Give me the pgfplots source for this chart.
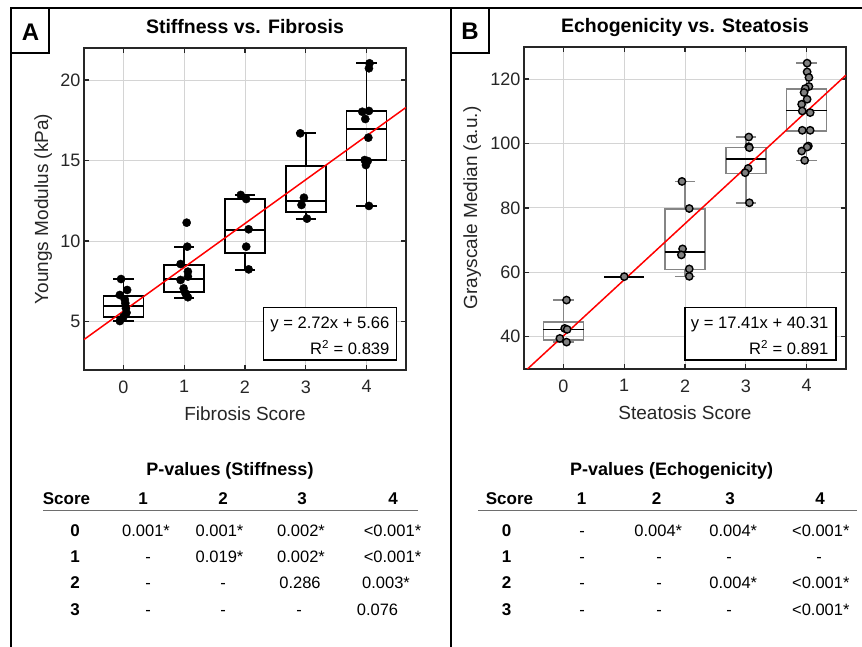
\documentclass[border=0pt]{standalone}
\usepackage{pgfplots}
\pgfplotsset{compat=1.18}
\usepackage{fontspec}
\setmainfont{Liberation Sans}
\definecolor{axgray}{HTML}{262626}
\definecolor{gridc}{HTML}{D4D4D4}
\definecolor{boxgray}{HTML}{858585}
\definecolor{ptgray}{HTML}{808080}
\definecolor{rulegray}{HTML}{6E6E6E}
\pgfplotsset{
  panel/.style={
    scale only axis, width=322pt, height=322pt,
    xmin=-0.65, xmax=4.65, xtick={0,1,2,3,4},
    tick align=inside, tick pos=both, major tick length=5pt,
    xmajorgrids, ymajorgrids,
    major grid style={draw=gridc, line width=1pt},
    axis line style={draw=axgray, line width=1.7pt},
    every tick/.style={draw=axgray, line width=1.4pt},
    tick label style={font=\fontsize{18}{20}\selectfont, text=axgray},
    /pgf/number format/assume math mode=true,
    xticklabel style={yshift=-7pt},
    label style={font=\fontsize{19}{22}\selectfont, text=axgray},
    xlabel style={at={(axis description cs:0.5,-0.135)}, anchor=center},
    title style={font=\bfseries\fontsize{19.5}{22}\selectfont, at={(axis description cs:0.5,1)}, anchor=base, yshift=8pt},
  },
  bxA/.style={draw=black, line width=1.8pt, unbounded coords=jump, no markers},
  bxB/.style={draw=boxgray, line width=1.7pt, unbounded coords=jump, no markers},
  mdB/.style={draw=black, line width=1.8pt, no markers},
}
\newcommand{\vt}[3]{\node[anchor=base, font=\fontsize{16.5}{18}\selectfont] at (#1pt,#2pt) {#3};}
\newcommand{\bt}[3]{\node[anchor=base, font=\bfseries\fontsize{17}{19}\selectfont] at (#1pt,#2pt) {#3};}
\begin{document}
\begin{tikzpicture}
\path[use as bounding box] (0pt,0pt) rectangle (862pt,647pt);

% ---------------- Panel A ----------------
\begin{axis}[panel, at={(84pt,277pt)}, anchor=south west,
  ymin=2, ymax=22, ytick={5,10,15,20},
  title={Stiffness vs. Fibrosis},
  xlabel={Fibrosis Score},
  ylabel={Youngs Modulus (kPa)},
  ylabel style={at={(axis description cs:-0.127,0.5)}, anchor=center, rotate=0},
]
% box: lower whisker, Q1, median, Q3, upper whisker
\addplot[bxA] coordinates {(-0.33,5.29) (0.33,5.29) (0.33,6.61) (-0.33,6.61) (-0.33,5.29) (0.33,5.29) (nan,nan) (-0.33,5.98) (0.33,5.98) (nan,nan) (0,6.61) (0,7.65) (nan,nan) (-0.165,7.65) (0.165,7.65) (nan,nan) (0,5.29) (0,5.02) (nan,nan) (-0.165,5.02) (0.165,5.02)};
\addplot[bxA] coordinates {(0.67,6.83) (1.33,6.83) (1.33,8.52) (0.67,8.52) (0.67,6.83) (1.33,6.83) (nan,nan) (0.67,7.67) (1.33,7.67) (nan,nan) (1,8.52) (1,9.66) (nan,nan) (0.835,9.66) (1.165,9.66) (nan,nan) (1,6.83) (1,6.47) (nan,nan) (0.835,6.47) (1.165,6.47)};
\addplot[bxA] coordinates {(1.67,9.25) (2.33,9.25) (2.33,12.64) (1.67,12.64) (1.67,9.25) (2.33,9.25) (nan,nan) (1.67,10.71) (2.33,10.71) (nan,nan) (2,12.64) (2,12.85) (nan,nan) (1.835,12.85) (2.165,12.85) (nan,nan) (2,9.25) (2,8.22) (nan,nan) (1.835,8.22) (2.165,8.22)};
\addplot[bxA] coordinates {(2.67,11.83) (3.33,11.83) (3.33,14.69) (2.67,14.69) (2.67,11.83) (3.33,11.83) (nan,nan) (2.67,12.48) (3.33,12.48) (nan,nan) (3,14.69) (3,16.70) (nan,nan) (2.835,16.70) (3.165,16.70) (nan,nan) (3,11.83) (3,11.40) (nan,nan) (2.835,11.40) (3.165,11.40)};
\addplot[bxA] coordinates {(3.67,15.04) (4.33,15.04) (4.33,18.09) (3.67,18.09) (3.67,15.04) (4.33,15.04) (nan,nan) (3.67,16.99) (4.33,16.99) (nan,nan) (4,18.09) (4,21.05) (nan,nan) (3.835,21.05) (4.165,21.05) (nan,nan) (4,15.04) (4,12.19) (nan,nan) (3.835,12.19) (4.165,12.19)};
\addplot[only marks, mark=*, mark size=4.1pt, mark options={fill=black, draw=black}] coordinates {
(-0.04,7.65) (0.06,6.97) (-0.06,6.66) (0.02,6.39) (0.03,6.15) (0.04,5.83) (0.05,5.56) (0.00,5.31) (-0.06,5.04)
(1.04,11.15) (1.05,9.66) (0.94,8.58) (1.06,8.11) (1.06,7.80) (0.94,7.59) (0.99,7.07) (1.02,6.76) (1.06,6.52)
(1.93,12.87) (2.02,12.62) (2.06,10.74) (2.02,9.66) (2.06,8.25)
(2.91,16.70) (2.97,12.70) (2.93,12.25) (3.02,11.40)
(4.05,21.05) (4.04,20.74) (3.93,18.04) (4.04,18.09) (3.98,17.59) (4.03,16.43) (3.97,15.04) (4.02,14.98) (3.99,14.73) (4.04,12.19)
};
\addplot[red, line width=1.5pt, no markers] coordinates {(-0.65,3.892) (4.65,18.308)};
\end{axis}

% ---------------- Panel B ----------------
\begin{axis}[panel, at={(524pt,278pt)}, anchor=south west,
  ymin=30, ymax=130, ytick={40,60,80,100,120},
  title={Echogenicity vs. Steatosis},
  xlabel={Steatosis Score},
  ylabel={Grayscale Median (a.u.)},
  ylabel style={at={(axis description cs:-0.161,0.5)}, anchor=center, rotate=0},
]
\addplot[bxB] coordinates {(-0.33,39.07) (0.33,39.07) (0.33,44.67) (-0.33,44.67) (-0.33,39.07) (0.33,39.07) (nan,nan) (0,44.67) (0,51.4) (nan,nan) (-0.165,51.4) (0.165,51.4) (nan,nan) (0,39.07) (0,38.35) (nan,nan) (-0.165,38.35) (0.165,38.35)};
\addplot[mdB] coordinates {(-0.33,42.27) (0.33,42.27)};
\addplot[mdB] coordinates {(0.67,58.68) (1.33,58.68)};
\addplot[bxB] coordinates {(1.67,60.86) (2.33,60.86) (2.33,79.75) (1.67,79.75) (1.67,60.86) (2.33,60.86) (nan,nan) (2,79.75) (2,88.25) (nan,nan) (1.835,88.25) (2.165,88.25) (nan,nan) (2,60.86) (2,58.77) (nan,nan) (1.835,58.77) (2.165,58.77)};
\addplot[mdB] coordinates {(1.67,66.24) (2.33,66.24)};
\addplot[bxB] coordinates {(2.67,90.74) (3.33,90.74) (3.33,98.83) (2.67,98.83) (2.67,90.74) (3.33,90.74) (nan,nan) (3,98.83) (3,102.04) (nan,nan) (2.835,102.04) (3.165,102.04) (nan,nan) (3,90.74) (3,81.62) (nan,nan) (2.835,81.62) (3.165,81.62)};
\addplot[mdB] coordinates {(2.67,95.3) (3.33,95.3)};
\addplot[bxB] coordinates {(3.67,103.9) (4.33,103.9) (4.33,116.9) (3.67,116.9) (3.67,103.9) (4.33,103.9) (nan,nan) (4,116.9) (4,124.98) (nan,nan) (3.835,124.98) (4.165,124.98) (nan,nan) (4,103.9) (4,94.79) (nan,nan) (3.835,94.79) (4.165,94.79)};
\addplot[mdB] coordinates {(3.67,110.3) (4.33,110.3)};
\addplot[only marks, mark=*, mark size=3.7pt, mark options={fill=ptgray, draw=black, line width=1.4pt}] coordinates {
(0.05,51.4) (0.02,42.6) (0.06,42.3) (-0.06,39.5) (0.05,38.35)
(1.00,58.68)
(1.95,88.25) (2.07,79.84) (1.96,67.3) (1.94,65.43) (2.07,61.07) (2.07,58.77)
(3.05,102.04) (3.05,99.05) (3.06,98.74) (3.04,92.3) (2.99,90.96) (3.06,81.62)
(4.01,124.98) (4.01,122.27) (4.04,120.53) (4.04,117.73) (3.98,117.1) (3.96,115.86) (4.01,113.77) (3.92,112.22) (3.93,110.13) (4.06,109.63) (3.93,104.12) (4.06,104.12) (4.03,99.24) (4.01,98.93) (3.92,97.68) (3.97,94.79)
};
\addplot[red, line width=1.5pt, no markers] coordinates {(-0.60,29.87) (4.65,121.27)};
\end{axis}

% regression text boxes
\draw[black, line width=1.5pt, fill=white] (263.3pt,339.3pt) rectangle (396.7pt,287pt);
\node[anchor=base east, font=\fontsize{16.6}{20}\selectfont] at (393pt,318.7pt) {y = 2.72x + 5.66};
\node[anchor=base east, font=\fontsize{16.6}{20}\selectfont] at (393pt,292pt) {R\textsuperscript{2} = 0.839};
\draw[black, line width=1.5pt, fill=white] (685pt,339.3pt) rectangle (836pt,287pt);
\node[anchor=base east, font=\fontsize{16.6}{20}\selectfont] at (832pt,318.7pt) {y = 17.41x + 40.31};
\node[anchor=base east, font=\fontsize{16.6}{20}\selectfont] at (832pt,292pt) {R\textsuperscript{2} = 0.891};

% frame and panel labels
\draw[black, line width=2pt] (10pt,639pt) -- (862pt,639pt);
\draw[black, line width=2pt] (11pt,639pt) -- (11pt,0pt);
\draw[black, line width=2pt] (451pt,639pt) -- (451pt,0pt);
\draw[black, line width=1.5pt] (11pt,639pt) rectangle (49pt,594pt);
\draw[black, line width=1.5pt] (451pt,639pt) rectangle (489pt,594pt);
\node[font=\bfseries\fontsize{24}{26}\selectfont] at (30.5pt,615pt) {A};
\node[font=\bfseries\fontsize{24}{26}\selectfont] at (470pt,616pt) {B};

% ---------------- Table A ----------------
\node[anchor=base, font=\bfseries\fontsize{18}{20}\selectfont] at (230pt,171pt) {P-values (Stiffness)};
\bt{66.5}{142}{Score} \bt{143}{142}{1} \bt{223}{142}{2} \bt{302}{142}{3} \bt{393}{142}{4}
\draw[rulegray, line width=1pt] (43pt,136.5pt) -- (418pt,136.5pt);
\bt{75}{110.3}{0} \vt{146}{110.3}{0.001*} \vt{219.5}{110.3}{0.001*} \vt{301}{110.3}{0.002*} \vt{392.5}{110.3}{<0.001*}
\bt{75}{84.7}{1} \vt{148}{84.7}{-} \vt{219.5}{84.7}{0.019*} \vt{301}{84.7}{0.002*} \vt{392.5}{84.7}{<0.001*}
\bt{75}{58}{2} \vt{148}{58}{-} \vt{223}{58}{-} \vt{300}{58}{0.286} \vt{386}{58}{0.003*}
\bt{75}{31.3}{3} \vt{148}{31.3}{-} \vt{223}{31.3}{-} \vt{299}{31.3}{-} \vt{377.5}{31.3}{0.076}

% ---------------- Table B ----------------
\node[anchor=base, font=\bfseries\fontsize{18}{20}\selectfont] at (671.7pt,171pt) {P-values (Echogenicity)};
\bt{509.5}{142}{Score} \bt{581.7}{142}{1} \bt{656.7}{142}{2} \bt{730}{142}{3} \bt{820}{142}{4}
\draw[rulegray, line width=1pt] (478.3pt,136.5pt) -- (856.7pt,136.5pt);
\bt{506.7}{110.3}{0} \vt{582}{110.3}{-} \vt{658.3}{110.3}{0.004*} \vt{733.3}{110.3}{0.004*} \vt{820.8}{110.3}{<0.001*}
\bt{506.7}{84.7}{1} \vt{582}{84.7}{-} \vt{659}{84.7}{-} \vt{729}{84.7}{-} \vt{819}{84.7}{-}
\bt{506.7}{58}{2} \vt{582}{58}{-} \vt{659}{58}{-} \vt{733.3}{58}{0.004*} \vt{820.8}{58}{<0.001*}
\bt{506.7}{31.3}{3} \vt{582}{31.3}{-} \vt{659}{31.3}{-} \vt{729}{31.3}{-} \vt{820.8}{31.3}{<0.001*}
\end{tikzpicture}
\end{document}
